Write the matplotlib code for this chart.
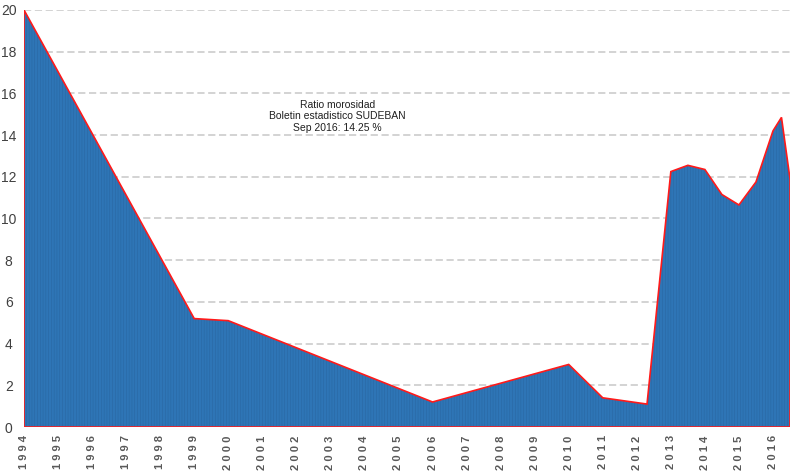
import matplotlib.pyplot as plt
import numpy as np

# datos (ratio de morosidad, %)
years = [1994, 1999, 2000, 2006, 2010, 2011, 2012.3, 2013, 2013.5, 2014,
         2014.5, 2015, 2015.5, 2016, 2016.25, 2016.5]
ratio = [20.0, 5.2, 5.1, 1.2, 3.0, 1.4, 1.1, 12.25, 12.55, 12.35,
         11.15, 10.65, 11.75, 14.2, 14.85, 11.9]
tick_years = list(range(1994, 2017))
y_ticks = list(range(0, 21, 2))

plt.rcParams['font.family'] = ['Liberation Sans', 'DejaVu Sans']
plt.rcParams['hatch.linewidth'] = 0.4

fig = plt.figure(figsize=(8, 4.71), dpi=100)
ax = fig.add_axes([0.03, 0.0934, 0.9575, 0.8854])

xs = np.array(years)
ys = np.array(ratio)
px = np.concatenate([xs, [xs[-1], xs[0]]])
py = np.concatenate([ys, [0, 0]])

# relleno azul con rayas verticales
ax.fill(px, py, facecolor='#2E75B6', edgecolor='#2968A3', hatch='||||||',
        linewidth=0, zorder=2)
# borde rojo
ax.fill(px, py, facecolor='none', edgecolor='#FF1A1A', linewidth=1.2,
        zorder=3)

ax.set_xlim(1994, 2016.5)
ax.set_ylim(0, 20)

for v in y_ticks[1:]:
    ax.axhline(v, color='#D0D0D0', linestyle=(0, (4, 2)), linewidth=1.3,
               zorder=1)

ax.set_yticks(y_ticks)
ax.set_yticklabels([str(v) for v in y_ticks], fontsize=10, color='#404040',
                   ha='center')
ax.tick_params(axis='y', length=0, pad=11)

ax.set_xticks(tick_years)
ax.set_xticklabels([' '.join(str(y)) for y in tick_years], rotation=90,
                   fontsize=8, color='#595959', fontweight='bold')
ax.tick_params(axis='x', length=0, pad=6)

for s in ax.spines.values():
    s.set_visible(False)

ax.text(2003.2, 14.9, 'Ratio morosidad\nBoletin estadistico SUDEBAN\nSep 2016: 14.25 %',
        ha='center', va='center', fontsize=7.5, color='#202020',
        linespacing=1.15, zorder=4)

fig.savefig('out.png', dpi=100)
